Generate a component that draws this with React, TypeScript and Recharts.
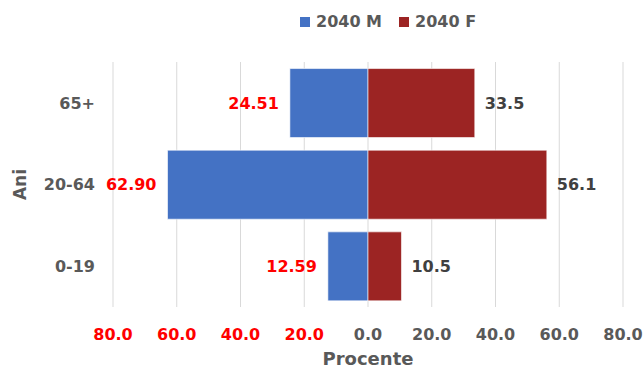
import React from 'react';
import { BarChart, Bar, XAxis, YAxis, CartesianGrid, Legend, LabelList, Label } from 'recharts';

const categories = ['65+', '20-64', '0-19'];
const male2040 = [24.51, 62.9, 12.59];
const female2040 = [33.5, 56.1, 10.5];
const xTicks = [-80, -60, -40, -20, 0, 20, 40, 60, 80];
const seriesNames = { m: '2040 M', f: '2040 F' };
const seriesOrder = ['m', 'f'];

const data = categories.map((c, i) => ({ cat: c, m: -male2040[i], f: female2040[i] }));

const FONT = '"DejaVu Sans", Verdana, sans-serif';
const GRAY = '#595959';
const DARK = '#404040';
const RED_TXT = '#FF0000';
const BLUE = '#4472C4';
const RED = '#9C2423';

const XTick = (props: any) => {
  const { x, y, payload } = props;
  const v = payload.value as number;
  return (
    <text x={x} y={y} dy="0.71em" textAnchor="middle" fill={v < 0 ? RED_TXT : GRAY}
      fontFamily={FONT} fontWeight="bold" fontSize={16}>
      {Math.abs(v).toFixed(1)}
    </text>
  );
};

const YTick = (props: any) => {
  const { x, y, payload } = props;
  return (
    <text x={x} y={y} dy="0.355em" textAnchor="end" fill={GRAY}
      fontFamily={FONT} fontWeight="bold" fontSize={16}>
      {payload.value}
    </text>
  );
};

const MaleLabel = (props: any) => {
  const { x, y, width, height, value } = props;
  const left = Math.min(x, x + width);
  return (
    <text x={left - 11} y={y + height / 2} dy="0.355em" textAnchor="end" fill={RED_TXT}
      fontFamily={FONT} fontWeight="bold" fontSize={16}>
      {Math.abs(value).toFixed(2)}
    </text>
  );
};

const FemaleLabel = (props: any) => {
  const { x, y, width, height, value } = props;
  const right = Math.max(x, x + width);
  return (
    <text x={right + 10} y={y + height / 2} dy="0.355em" textAnchor="start" fill={DARK}
      fontFamily={FONT} fontWeight="bold" fontSize={16}>
      {Math.abs(value).toFixed(1)}
    </text>
  );
};

const LegendContent = (props: any) => {
  const payload = [...(props.payload || [])].sort(
    (a: any, b: any) => seriesOrder.indexOf(a.dataKey) - seriesOrder.indexOf(b.dataKey)
  );
  return (
    <div style={{ height: 40, display: 'flex', alignItems: 'center', paddingLeft: 300, paddingTop: 4, boxSizing: 'border-box' }}>
      {payload.map((p: any, i: number) => (
        <div key={i} style={{ display: 'flex', alignItems: 'center', marginRight: 17 }}>
          <div style={{ width: 10, height: 10, background: p.color, marginRight: 6 }} />
          <span style={{ fontFamily: FONT, fontWeight: 'bold', fontSize: 16, color: GRAY, lineHeight: '18px' }}>{p.value}</span>
        </div>
      ))}
    </div>
  );
};

const XLabel = (props: any) => {
  const { viewBox } = props;
  return (
    <text x={viewBox.x + viewBox.width / 2} y={viewBox.y + 58} textAnchor="middle" fill={GRAY}
      fontFamily={FONT} fontWeight="bold" fontSize={18}>
      Procente
    </text>
  );
};

const YLabel = (props: any) => {
  const { viewBox } = props;
  const cx = 20;
  const cy = viewBox.y + viewBox.height / 2;
  return (
    <text x={cx} y={cy} transform={`rotate(-90, ${cx}, ${cy})`} textAnchor="middle" dy="0.355em" fill={GRAY}
      fontFamily={FONT} fontWeight="bold" fontSize={17}>
      Ani
    </text>
  );
};

export default function App() {
  return (
    <div style={{ position: 'fixed', left: 0, top: 0, width: 644, height: 372, background: '#fff' }}>
      <BarChart width={644} height={372} data={data} layout="vertical" stackOffset="sign"
        margin={{ top: 22, right: 21, bottom: 0, left: 0 }} barCategoryGap="8%">
        <CartesianGrid horizontal={false} stroke="#D9D9D9" />
        <Legend verticalAlign="top" align="left" content={LegendContent}
          wrapperStyle={{ top: 0, left: 0, width: 644, height: 40 }} />
        <XAxis type="number" domain={[-80, 80]} ticks={xTicks} interval={0} height={65}
          axisLine={false} tickLine={false} tickMargin={16} tick={<XTick />}>
          <Label content={<XLabel />} />
        </XAxis>
        <YAxis type="category" dataKey="cat" width={113} axisLine={false} tickLine={false}
          tickMargin={12} tick={<YTick />}>
          <Label content={<YLabel />} />
        </YAxis>
        <Bar dataKey="m" name={seriesNames.m} stackId="a" fill={BLUE} stroke="#ffffff" strokeOpacity={0.6}
          strokeWidth={1} isAnimationActive={false}>
          <LabelList dataKey="m" content={<MaleLabel />} />
        </Bar>
        <Bar dataKey="f" name={seriesNames.f} stackId="a" fill={RED} stroke="#ffffff" strokeOpacity={0.6}
          strokeWidth={1} isAnimationActive={false}>
          <LabelList dataKey="f" content={<FemaleLabel />} />
        </Bar>
      </BarChart>
    </div>
  );
}
